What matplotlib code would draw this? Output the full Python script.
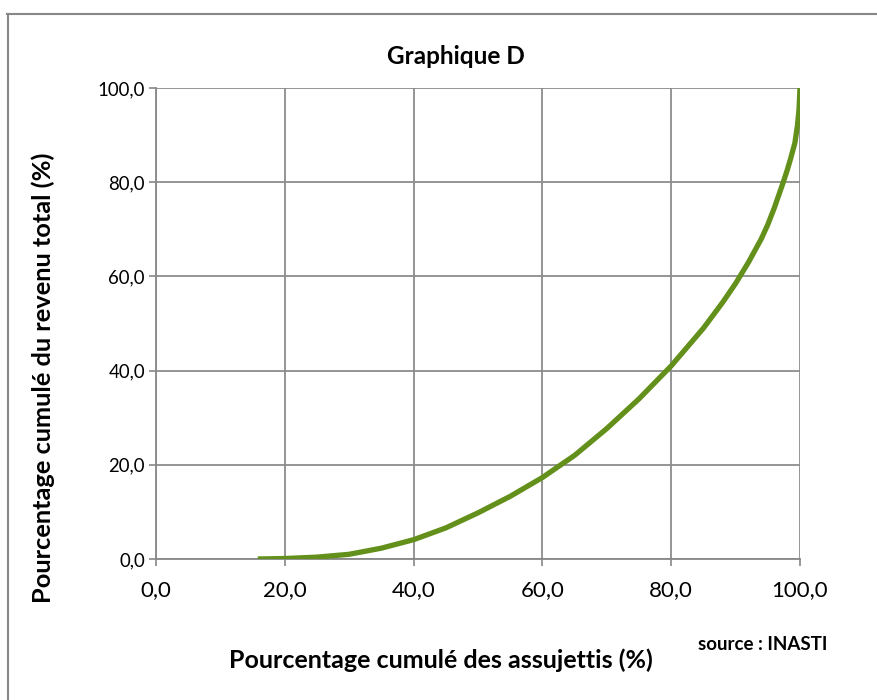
import matplotlib
matplotlib.use("Agg")
import matplotlib.pyplot as plt
from matplotlib.lines import Line2D
from matplotlib.ticker import FuncFormatter

# cumulative share of people (x) vs cumulative share of income (y)
pct_assujettis = [15.8, 20, 25, 30, 35, 40, 45, 50, 55, 60, 65, 70, 75, 80,
                  85, 88, 90, 92, 93, 94, 95, 96, 97.4, 98, 98.5, 99.2,
                  99.6, 99.85, 100]
pct_revenu = [0, 0.1, 0.4, 1.0, 2.3, 4.1, 6.6, 9.8, 13.3, 17.3, 22, 27.7, 34,
              41, 49, 54.5, 58.5, 63, 65.5, 68, 71, 74.5, 80, 82.5, 84.8,
              88.3, 92, 95.5, 100]
ticks = [0, 20, 40, 60, 80, 100]

plt.rcParams['font.family'] = ['Lato', 'DejaVu Sans']

fig = plt.figure(figsize=(8.78, 7.0), dpi=100)
ax = fig.add_axes([156 / 878, 1 - 559 / 700, 644 / 878, 471 / 700])

ax.plot(pct_assujettis, pct_revenu, color='#62901a', lw=3.8,
        solid_capstyle='butt', solid_joinstyle='round', zorder=3)

ax.set_xlim(0, 100)
ax.set_ylim(0, 100)
ax.set_xticks(ticks)
ax.set_yticks(ticks)
fmt = FuncFormatter(lambda v, p: f"{v:.1f}".replace('.', ','))
ax.xaxis.set_major_formatter(fmt)
ax.yaxis.set_major_formatter(fmt)
ax.tick_params(axis='x', labelsize=16, length=5, width=1.2,
               color='#888888', pad=10)
ax.tick_params(axis='y', labelsize=13.4, length=5, width=1.2,
               color='#888888', pad=3)
ax.grid(True, color='#8c8c8c', lw=1.3)
ax.set_axisbelow(True)
for side in ['top', 'right']:
    ax.spines[side].set_visible(False)
for side in ['left', 'bottom']:
    ax.spines[side].set_color('#888888')
    ax.spines[side].set_linewidth(1.3)

fig.text(456 / 878, 1 - 57 / 700, "Graphique D", ha='center', va='center',
         fontsize=17.5, fontweight='bold')
fig.text(441 / 878, 1 - 660 / 700, "Pourcentage cumulé des assujettis (%)",
         ha='center', va='center', fontsize=18, fontweight='bold')
fig.text(43 / 878, 1 - 378 / 700, "Pourcentage cumulé du revenu total (%)",
         ha='center', va='center', rotation=90, fontsize=18.3,
         fontweight='bold')
fig.text(763 / 878, 1 - 644 / 700, "source : INASTI", ha='center',
         va='center', fontsize=13.5, fontweight='bold')

# outer chart frame
fig.add_artist(Line2D([8 / 878, 8 / 878], [0, 1 - 13.5 / 700],
                      transform=fig.transFigure, color='#888888', lw=1.5))
fig.add_artist(Line2D([7 / 878, 1], [1 - 13.5 / 700, 1 - 13.5 / 700],
                      transform=fig.transFigure, color='#888888', lw=1.5))

fig.savefig("out.png", dpi=100)
